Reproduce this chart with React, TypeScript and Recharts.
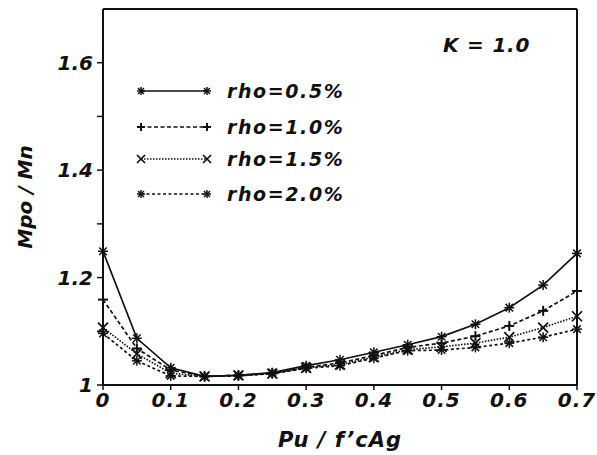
import {
  LineChart,
  Line,
  XAxis,
  YAxis,
  ReferenceLine,
  Legend,
} from "recharts";

// Pu / f'cAg
const loadRatio = [0, 0.05, 0.1, 0.15, 0.2, 0.25, 0.3, 0.35, 0.4, 0.45, 0.5, 0.55, 0.6, 0.65, 0.7];

// Mpo / Mn for each reinforcement ratio
const rho05 = [1.249, 1.087, 1.032, 1.016, 1.018, 1.023, 1.036, 1.047, 1.061, 1.075, 1.09, 1.113, 1.144, 1.186, 1.245];
const rho10 = [1.159, 1.068, 1.028, 1.016, 1.018, 1.022, 1.033, 1.041, 1.055, 1.07, 1.078, 1.091, 1.11, 1.138, 1.175];
const rho15 = [1.107, 1.058, 1.022, 1.016, 1.018, 1.021, 1.032, 1.038, 1.052, 1.066, 1.071, 1.078, 1.089, 1.107, 1.128];
const rho20 = [1.096, 1.045, 1.017, 1.016, 1.017, 1.021, 1.031, 1.036, 1.05, 1.064, 1.065, 1.07, 1.078, 1.089, 1.104];

const xTicks = [0, 0.1, 0.2, 0.3, 0.4, 0.5, 0.6, 0.7];
const yTicks = [1, 1.1, 1.2, 1.3, 1.4, 1.5, 1.6];
const yLabelled = [1, 1.2, 1.4, 1.6];

const data = loadRatio.map((x, i) => ({
  x,
  r05: rho05[i],
  r10: rho10[i],
  r15: rho15[i],
  r20: rho20[i],
}));

const FONT = "'DejaVu Sans', sans-serif";
const INK = "#111";

type MarkProps = { cx: number; cy: number; r?: number };

const Star = ({ cx, cy, r = 5 }: MarkProps) => (
  <g stroke={INK} strokeWidth={1.5}>
    <line x1={cx - r} y1={cy} x2={cx + r} y2={cy} />
    <line x1={cx} y1={cy - r} x2={cx} y2={cy + r} />
    <line x1={cx - r * 0.75} y1={cy - r * 0.75} x2={cx + r * 0.75} y2={cy + r * 0.75} />
    <line x1={cx - r * 0.75} y1={cy + r * 0.75} x2={cx + r * 0.75} y2={cy - r * 0.75} />
  </g>
);

const Plus = ({ cx, cy, r = 5 }: MarkProps) => (
  <g stroke={INK} strokeWidth={2}>
    <line x1={cx - r} y1={cy} x2={cx + r} y2={cy} />
    <line x1={cx} y1={cy - r} x2={cx} y2={cy + r} />
  </g>
);

const Cross = ({ cx, cy, r = 5 }: MarkProps) => (
  <g stroke={INK} strokeWidth={1.7}>
    <line x1={cx - r} y1={cy - r} x2={cx + r} y2={cy + r} />
    <line x1={cx - r} y1={cy + r} x2={cx + r} y2={cy - r} />
  </g>
);

const series = [
  { key: "r05", name: "rho=0.5%", dash: undefined, Mark: Star },
  { key: "r10", name: "rho=1.0%", dash: "4 2.5", Mark: Plus },
  { key: "r15", name: "rho=1.5%", dash: "1.5 1.5", Mark: Cross },
  { key: "r20", name: "rho=2.0%", dash: "3 2.5", Mark: Star },
];

const XTick = (props: any) => {
  const { x, y, payload } = props;
  const v = payload.value;
  return (
    <text x={x} y={y} dy={15} textAnchor="middle" fontFamily={FONT} fontSize={20}
      fontWeight="bold" fontStyle="italic" letterSpacing={1} fill={INK}>
      {v === 0 ? "0" : v.toFixed(1)}
    </text>
  );
};

const YTick = (props: any) => {
  const { x, y, payload } = props;
  const v = payload.value;
  if (!yLabelled.some((t) => Math.abs(t - v) < 1e-6)) return <g />;
  return (
    <text x={x} y={y} dy={7} textAnchor="end" fontFamily={FONT} fontSize={20}
      fontWeight="bold" fontStyle="italic" fill={INK}>
      {v === 1 ? "1" : v.toFixed(1)}
    </text>
  );
};

// legend rows and the K label, drawn in page coordinates
const rowY = [91, 127, 159, 194];

const LegendBox = () => (
  <svg width={597} height={455} style={{ display: "block" }}>
    {series.map((s, i) => (
      <g key={s.key}>
        <line x1={141} y1={rowY[i]} x2={207} y2={rowY[i]} stroke={INK}
          strokeWidth={1.6} strokeDasharray={s.dash} />
        <s.Mark cx={141} cy={rowY[i]} r={4} />
        <s.Mark cx={207} cy={rowY[i]} r={4} />
        <text x={227} y={rowY[i]} dy={7} fontFamily={FONT} fontSize={19}
          fontWeight="bold" fontStyle="italic" letterSpacing={1.6} fill={INK}>
          {s.name}
        </text>
      </g>
    ))}
    <text x={443} y={45} dy={7} fontFamily={FONT} fontSize={20} fontWeight="bold"
      fontStyle="italic" letterSpacing={0.8} fill={INK}>
      K = 1.0
    </text>
  </svg>
);

const App = () => {
  return (
    <div style={{ position: "absolute", left: 0, top: 0, width: 597, height: 455, background: "#fff" }}>
      <LineChart width={597} height={455} data={data}
        margin={{ top: 9, right: 20, bottom: 30, left: 0 }}>
        <XAxis
          dataKey="x"
          type="number"
          domain={[0, 0.7]}
          ticks={xTicks}
          tick={<XTick />}
          tickSize={5}
          tickMargin={2}
          height={40}
          axisLine={{ stroke: INK, strokeWidth: 2 }}
          tickLine={{ stroke: INK, strokeWidth: 1.5 }}
          label={{
            value: "Pu / f\u2019cAg",
            position: "insideBottom",
            offset: -22,
            style: { fontFamily: FONT, fontSize: 21, fontWeight: "bold", fontStyle: "italic", fill: INK, letterSpacing: 1 },
          }}
        />
        <YAxis
          type="number"
          domain={[1, 1.7]}
          ticks={yTicks}
          tick={<YTick />}
          tickSize={6}
          tickMargin={4}
          width={103}
          interval={0}
          axisLine={{ stroke: INK, strokeWidth: 2 }}
          tickLine={{ stroke: INK, strokeWidth: 1.5 }}
          label={{
            value: "Mpo / Mn",
            angle: -90,
            position: "insideLeft",
            offset: 25,
            style: { fontFamily: FONT, fontSize: 20, fontWeight: "bold", fontStyle: "italic", fill: INK, textAnchor: "middle" },
          }}
        />
        <ReferenceLine y={1.7} stroke={INK} strokeWidth={2} ifOverflow="visible" />
        <ReferenceLine x={0.7} stroke={INK} strokeWidth={2} ifOverflow="visible" />
        {series.map((s) => (
          <Line
            key={s.key}
            dataKey={s.key}
            name={s.name}
            stroke={INK}
            strokeWidth={1.7}
            strokeDasharray={s.dash}
            isAnimationActive={false}
            dot={(p: any) => <s.Mark key={`${s.key}-${p.index}`} cx={p.cx} cy={p.cy} r={5} />}
          />
        ))}
        <Legend
          layout="vertical"
          align="center"
          verticalAlign="middle"
          content={<LegendBox />}
          wrapperStyle={{ left: 0, top: 0, width: 597, height: 455, pointerEvents: "none" }}
        />
      </LineChart>
    </div>
  );
};

export default App;
